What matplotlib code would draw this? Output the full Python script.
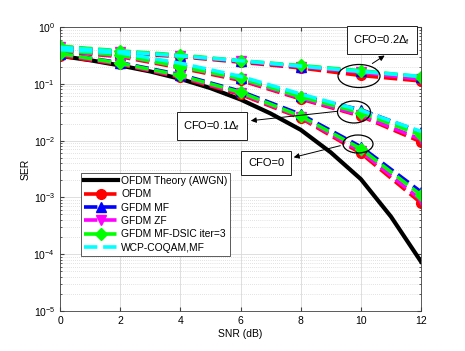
import matplotlib
matplotlib.use("Agg")
import matplotlib.pyplot as plt
from matplotlib.patches import Ellipse

plt.rcParams["font.family"] = ["Liberation Sans", "DejaVu Sans"]
plt.rcParams["mathtext.fontset"] = "custom"
plt.rcParams["mathtext.rm"] = "Liberation Sans"
plt.rcParams["mathtext.it"] = "Liberation Sans:italic"

# SNR grid of the simulated curves
snr = [0, 2, 4, 6, 8, 10, 12]

# theory curve, read at 1 dB steps
snr_theory = [0, 1, 2, 3, 4, 5, 6, 7, 8, 9, 10, 11, 12]
ser_theory = [0.31, 0.26, 0.21, 0.165, 0.122, 0.084, 0.053, 0.030, 0.0155,
              0.0062, 0.0021, 4.6e-4, 7.4e-5]

# CFO = 0
ofdm_0 = [0.31, 0.22, 0.13, 0.065, 0.025, 0.006, 8.0e-4]
mf_0 = [0.34, 0.235, 0.145, 0.074, 0.029, 0.0078, 1.25e-3]
zf_0 = [0.33, 0.225, 0.135, 0.068, 0.026, 0.0065, 9.0e-4]
dsic_0 = [0.34, 0.23, 0.14, 0.071, 0.027, 0.0072, 1.1e-3]

# CFO = 0.1 delta_f
ofdm_1 = [0.37, 0.30, 0.19, 0.115, 0.054, 0.027, 0.0095]
mf_1 = [0.39, 0.32, 0.21, 0.125, 0.060, 0.035, 0.014]
zf_1 = [0.38, 0.31, 0.20, 0.120, 0.056, 0.028, 0.0105]
dsic_1 = [0.39, 0.32, 0.20, 0.125, 0.059, 0.031, 0.0125]
wcp_1 = [0.40, 0.35, 0.23, 0.135, 0.066, 0.034, 0.0145]

# CFO = 0.2 delta_f
ofdm_2 = [0.42, 0.35, 0.30, 0.24, 0.19, 0.14, 0.112]
mf_2 = [0.44, 0.37, 0.31, 0.25, 0.20, 0.165, 0.13]
zf_2 = [0.45, 0.37, 0.31, 0.25, 0.20, 0.16, 0.12]
dsic_2 = [0.46, 0.38, 0.32, 0.255, 0.21, 0.17, 0.133]
wcp_2 = [0.44, 0.37, 0.31, 0.255, 0.205, 0.165, 0.135]

labels = ["OFDM Theory (AWGN)", "OFDM", "GFDM MF", "GFDM ZF",
          "GFDM MF-DSIC iter=3", "WCP-COQAM,MF"]

fig = plt.figure(figsize=(4.65, 3.51), dpi=100)
ax = fig.add_axes([60 / 465, 1 - 311 / 351, 361 / 465, 284 / 351])

lw = 2.6
ms = 7
ax.semilogy(snr_theory, ser_theory, "-", color="black", lw=lw + 0.4, label=labels[0])

styles = [
    ("#ff0000", "o", [ofdm_0, ofdm_1, ofdm_2], labels[1]),
    ("#0000ff", "^", [mf_0, mf_1, mf_2], labels[2]),
    ("#ff00ff", "v", [zf_0, zf_1, zf_2], labels[3]),
    ("#00ff00", "D", [dsic_0, dsic_1, dsic_2], labels[4]),
    ("#00ffff", None, [wcp_1, wcp_2], labels[5]),
]
for color, marker, groups, label in styles:
    for i, vals in enumerate(groups):
        ax.semilogy(snr, vals, "--", color=color, marker=marker, lw=lw,
                    ms=ms if marker != "D" else ms - 1,
                    mfc=color, mec=color,
                    label=label if i == 0 else None)

ax.set_xlim(0, 12)
ax.set_ylim(1e-5, 1)
ax.set_xticks(snr)
ax.set_xlabel("SNR (dB)", fontsize=7.5, labelpad=2)
ax.set_ylabel("SER", fontsize=7.5, labelpad=2)
ax.tick_params(which="both", direction="in", labelsize=7.5, color="#404040",
               top=True, right=True)
ax.tick_params(which="major", length=3)
ax.tick_params(which="minor", length=1.5)
ax.grid(True, which="major", color="#d9d9d9", lw=0.6)
ax.grid(True, which="minor", axis="y", color="#c8c8c8", lw=0.5, ls=(0, (1, 2)))
for s in ax.spines.values():
    s.set_color("#404040")
    s.set_linewidth(0.6)

leg = ax.legend(loc="lower left", bbox_to_anchor=(0.058, 0.194), borderaxespad=0,
                fontsize=7.4, frameon=True, fancybox=False, framealpha=1,
                edgecolor="#404040", handlelength=3.3, handletextpad=0.3,
                labelspacing=0.33, borderpad=0.3)
leg.get_frame().set_linewidth(0.6)

def axfrac(px, py):
    return ((px - 60) / 361, (311 - py) / 284)

box = dict(boxstyle="square,pad=0.6", fc="white", ec="#202020", lw=0.7)
notes = [
    (r"CFO=0.2$\Delta_{\rm f}$", (382, 40), (359, 76), 42, 23, (370, 65), (387, 54)),
    (r"CFO=0.1$\Delta_{\rm f}$", (212, 126), (354, 112), 33, 22, (340, 111), (248, 121)),
    ("CFO=0", (266, 163), (358, 144), 30, 18, (343, 145), (291, 158)),
]
for text, tpos, epos, ew, eh, a0, a1 in notes:
    ax.text(*axfrac(*tpos), text, transform=ax.transAxes, ha="center", va="center",
            fontsize=8, bbox=box, zorder=10)
    ax.add_patch(Ellipse(axfrac(*epos), ew / 361, eh / 284, transform=ax.transAxes,
                         fill=False, ec="black", lw=0.9, zorder=9))
    ax.annotate("", xy=axfrac(*a1), xytext=axfrac(*a0), xycoords="axes fraction",
                textcoords="axes fraction",
                arrowprops=dict(arrowstyle="-|>", color="black", lw=0.7,
                                mutation_scale=8), zorder=9)

fig.savefig("out.png", dpi=100)
